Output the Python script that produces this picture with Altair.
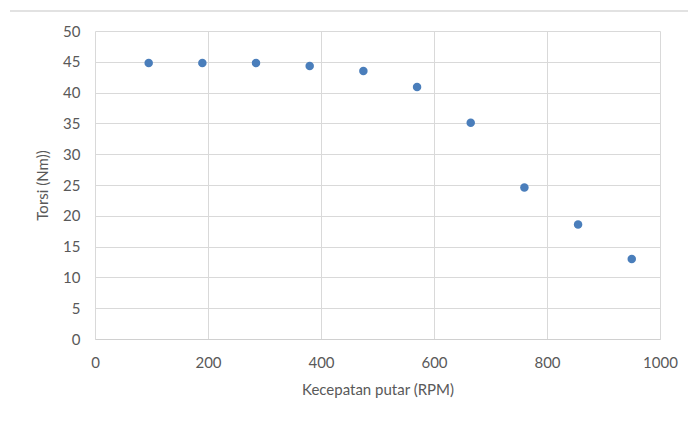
import altair as alt
import pandas as pd

rpm = [95, 190, 285, 380, 475, 570, 665, 760, 855, 950]
torsi = [44.8, 44.8, 44.8, 44.3, 43.5, 40.9, 35.1, 24.6, 18.6, 13.0]

df = pd.DataFrame({"rpm": rpm, "torsi": torsi})

FONT = "Lato"
GRAY = "#595959"

points = alt.Chart(df).mark_circle(size=72, opacity=1, color="#4a7ebb").encode(
    x=alt.X("rpm:Q", title="Kecepatan putar (RPM)",
            scale=alt.Scale(domain=[0, 1000], nice=False),
            axis=alt.Axis(values=[0, 200, 400, 600, 800, 1000], format="d", grid=True,
                          gridColor="#d9d9d9", domainColor="#d0d0d0", ticks=False,
                          labelFlush=False,
                          labelPadding=16, labelFontSize=15, labelColor=GRAY,
                          labelFont=FONT, titleFont=FONT, titleFontSize=15,
                          titleFontWeight="normal", titleColor=GRAY, titlePadding=12)),
    y=alt.Y("torsi:Q", title="Torsi (Nm))",
            scale=alt.Scale(domain=[0, 50], nice=False),
            axis=alt.Axis(values=list(range(0, 51, 5)), grid=True,
                          gridColor="#d9d9d9", domain=False, ticks=False,
                          labelFlush=False,
                          labelPadding=15, labelFontSize=15, labelColor=GRAY,
                          labelFont=FONT, titleFont=FONT, titleFontSize=15,
                          titleFontWeight="normal", titleColor=GRAY, titlePadding=12)),
)

border = alt.Chart(pd.DataFrame({"a": [0]})).mark_rule(color="#d9d9d9", strokeWidth=1.5).encode(
    x=alt.value(-85), x2=alt.value(593), y=alt.value(-20)
)

chart = alt.layer(points, border).properties(
    width=565, height=308,
    autosize=alt.AutoSizeParams(type="none"),
    padding={"left": 95, "top": 31, "right": 28, "bottom": 82},
).configure_view(stroke=None)

chart.save("out.html", embed_options={"renderer": "svg", "actions": False})
